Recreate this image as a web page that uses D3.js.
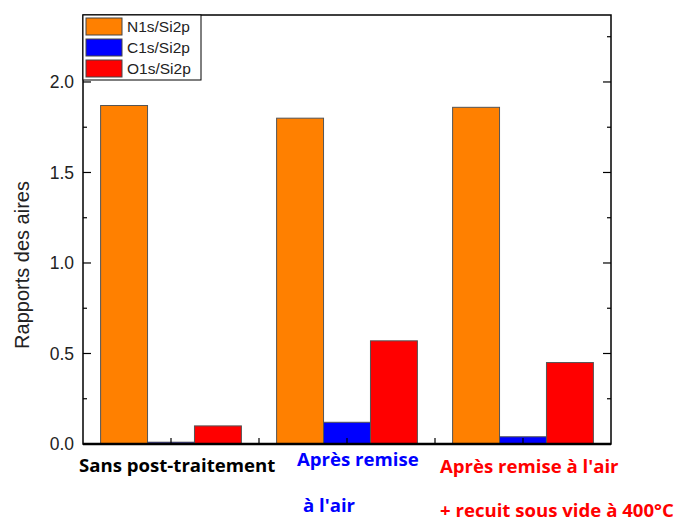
<!DOCTYPE html>
<html>
<head>
<meta charset="utf-8">
<script src="https://cdn.jsdelivr.net/npm/d3@7"></script>
<style>
  html, body { margin: 0; padding: 0; background: #fff; }
  svg { display: block; }
</style>
</head>
<body>
<svg id="chart" width="676" height="523"></svg>
<script>
// Area ratios measured by XPS for three surface treatments
const categories = ["Sans post-traitement", "Après remise à l'air", "Après remise à l'air + recuit"];
const seriesNames = ["N1s/Si2p", "C1s/Si2p", "O1s/Si2p"];
const seriesColors = ["#ff8000", "#0000ff", "#ff0000"];
const n1sValues = [1.87, 1.80, 1.86];
const c1sValues = [0.01, 0.12, 0.04];
const o1sValues = [0.10, 0.57, 0.45];
const yTickValues = [0, 0.5, 1.0, 1.5, 2.0];
const yMinorTicks = [0.25, 0.75, 1.25, 1.75, 2.25];

// Category labels, written as the lines shown under each group
const categoryLabelLines = [
  ["Sans post-traitement"],
  ["Après remise", "à l'air"],
  ["Après remise à l'air", "+ recuit sous vide à 400°C"]
];
const categoryLabelColors = ["#000000", "#0000ff", "#ff0000"];

const seriesValues = [n1sValues, c1sValues, o1sValues];

const svg = d3.select("#chart");
const margin = { left: 83, right: 65, top: 15, bottom: 80 };
const W = 676, H = 523;
const x0 = margin.left, x1 = W - margin.right;
const y0 = H - margin.bottom, y1 = margin.top;

const x = d3.scaleBand().domain(categories).range([x0, x1])
  .paddingInner(0.2).paddingOuter(0.1);
const xs = d3.scaleBand().domain(seriesNames).range([0, x.bandwidth()]);
const y = d3.scaleLinear().domain([0, 2.37]).range([y0 + 1, y1]);

// Bars
categories.forEach((c, ci) => {
  seriesNames.forEach((s, si) => {
    const v = seriesValues[si][ci];
    svg.append("rect")
      .attr("x", x(c) + xs(s))
      .attr("y", y(v))
      .attr("width", xs.bandwidth())
      .attr("height", y(0) - y(v))
      .attr("fill", seriesColors[si])
      .attr("stroke", "#555")
      .attr("stroke-width", 1);
  });
});

// Frame
svg.append("rect")
  .attr("x", x0).attr("y", y1)
  .attr("width", x1 - x0).attr("height", y(0) - y1)
  .attr("fill", "none").attr("stroke", "#000").attr("stroke-width", 1.5);
svg.append("line")
  .attr("x1", x0).attr("x2", x1).attr("y1", y(0)).attr("y2", y(0))
  .attr("stroke", "#000").attr("stroke-width", 2.5);

// Left axis: ticks pointing inward
const leftAxis = d3.axisLeft(y).tickValues(yTickValues)
  .tickFormat(d3.format(".1f")).tickSize(0).tickPadding(9);
const gl = svg.append("g").attr("transform", `translate(${x0},0)`).call(leftAxis);
gl.select(".domain").remove();
gl.selectAll("text").attr("font-family", "Liberation Sans, Arial, sans-serif")
  .attr("font-size", 17.5).attr("fill", "#222");

const tickGroup = svg.append("g").attr("stroke", "#000").attr("stroke-width", 1.2);
yTickValues.concat(yMinorTicks).forEach(v => {
  const major = yTickValues.includes(v);
  const len = major ? 8 : 4;
  if (v > 0) {
    tickGroup.append("line").attr("x1", x0).attr("x2", x0 + len)
      .attr("y1", y(v)).attr("y2", y(v));
    tickGroup.append("line").attr("x1", x1).attr("x2", x1 - len)
      .attr("y1", y(v)).attr("y2", y(v));
  }
});

// Bottom ticks at category centres and between groups
const xTickPos = [];
categories.forEach((c, i) => {
  xTickPos.push(x(c) + x.bandwidth() / 2);
  if (i < categories.length - 1) xTickPos.push(x(c) + x.bandwidth() + (x.step() - x.bandwidth()) / 2);
});
xTickPos.forEach(p => {
  tickGroup.append("line").attr("x1", p).attr("x2", p)
    .attr("y1", y(0)).attr("y2", y(0) - 6);
});

// Y axis title
svg.append("text")
  .attr("transform", `translate(29,${(y(0) + y(2.0)) / 2 + 2}) rotate(-90)`)
  .attr("text-anchor", "middle")
  .attr("font-family", "Liberation Sans, Arial, sans-serif")
  .attr("font-size", 20).attr("fill", "#222")
  .text("Rapports des aires");

// Category labels
const labelAnchors = [
  { dx: -92, lines: [472] },
  { dx: -50, lines: [466, 512], indent: [0, 6] },
  { dx: -83, lines: [473, 517] }
];
categories.forEach((c, i) => {
  const cx = x(c) + x.bandwidth() / 2;
  const a = labelAnchors[i];
  categoryLabelLines[i].forEach((line, li) => {
    svg.append("text")
      .attr("x", cx + a.dx + (a.indent ? a.indent[li] : 0))
      .attr("y", a.lines[li])
      .attr("font-family", "Open Sans, sans-serif")
      .attr("font-weight", "bold")
      .attr("font-size", 18.6)
      .attr("fill", categoryLabelColors[i])
      .text(line);
  });
});

// Legend
const lg = svg.append("g").attr("transform", `translate(${x0},${y1})`);
lg.append("rect").attr("x", 0).attr("y", 0).attr("width", 118).attr("height", 65)
  .attr("fill", "#fff").attr("stroke", "#000").attr("stroke-width", 1);
seriesNames.forEach((s, i) => {
  lg.append("rect").attr("x", 3).attr("y", 3 + i * 21).attr("width", 36).attr("height", 17)
    .attr("fill", seriesColors[i]).attr("stroke", "#444").attr("stroke-width", 1);
  lg.append("text").attr("x", 44).attr("y", 17 + i * 21)
    .attr("font-family", "Liberation Sans, Arial, sans-serif")
    .attr("font-size", 15.5).attr("fill", "#222")
    .text(s);
});
</script>
</body>
</html>
